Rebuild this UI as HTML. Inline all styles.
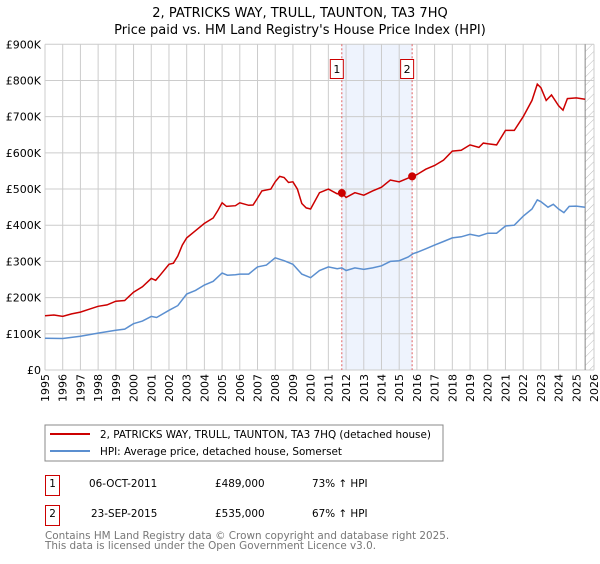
<!DOCTYPE html>
<html><head><meta charset="utf-8"><style>
body{margin:0;background:#fff;font-family:"DejaVu Sans","Liberation Sans",sans-serif;}
svg text{font-family:"DejaVu Sans","Liberation Sans",sans-serif;}
</style></head><body>
<svg id="c" width="600" height="560" viewBox="0 0 600 560" xmlns="http://www.w3.org/2000/svg">
<defs><pattern id="hatch" width="6" height="6" patternUnits="userSpaceOnUse" patternTransform="rotate(45)"><line x1="0" y1="0" x2="0" y2="6" stroke="#bbb" stroke-width="1"/></pattern></defs>
<text x="300" y="17" text-anchor="middle" font-size="13" fill="#000">2, PATRICKS WAY, TRULL, TAUNTON, TA3 7HQ</text>
<text x="300" y="34" text-anchor="middle" font-size="13" fill="#000">Price paid vs. HM Land Registry's House Price Index (HPI)</text>
<g id="plot"></g>
<rect x="45" y="425" width="398" height="36" fill="#fff" stroke="#888"/>
<line x1="50" y1="434" x2="90" y2="434" stroke="#cc0000" stroke-width="2"/>
<text x="100" y="438" font-size="10.4">2, PATRICKS WAY, TRULL, TAUNTON, TA3 7HQ (detached house)</text>
<line x1="50" y1="451" x2="90" y2="451" stroke="#5b8fd0" stroke-width="2"/>
<text x="100" y="455" font-size="10.4">HPI: Average price, detached house, Somerset</text>
<rect x="45.5" y="475.5" width="14" height="20" fill="#fff" stroke="#cc0000"/>
<text x="52.5" y="487" text-anchor="middle" font-size="10.4">1</text>
<text x="89" y="487" font-size="10.4">06-OCT-2011</text>
<text x="215" y="487" font-size="10.4">£489,000</text>
<text x="312" y="487" font-size="10.4">73% ↑ HPI</text>
<rect x="45.5" y="505.5" width="14" height="20" fill="#fff" stroke="#cc0000"/>
<text x="52.5" y="517" text-anchor="middle" font-size="10.4">2</text>
<text x="91" y="517" font-size="10.4">23-SEP-2015</text>
<text x="215" y="517" font-size="10.4">£535,000</text>
<text x="312" y="517" font-size="10.4">67% ↑ HPI</text>
<text x="45" y="539" font-size="10.4" fill="#777">Contains HM Land Registry data © Crown copyright and database right 2025.</text>
<text x="45" y="549" font-size="10.4" fill="#777">This data is licensed under the Open Government Licence v3.0.</text>
</svg>
<script>
const yTicks=[0,100,200,300,400,500,600,700,800,900];
const yTickLabels=["£0","£100K","£200K","£300K","£400K","£500K","£600K","£700K","£800K","£900K"];
const xYears=[1995,1996,1997,1998,1999,2000,2001,2002,2003,2004,2005,2006,2007,2008,2009,2010,2011,2012,2013,2014,2015,2016,2017,2018,2019,2020,2021,2022,2023,2024,2025,2026];
const propT=[1995,1995.5,1996,1996.5,1997,1997.5,1998,1998.5,1999,1999.5,2000,2000.5,2001,2001.25,2001.5,2002,2002.25,2002.5,2002.75,2003,2003.5,2004,2004.5,2004.75,2005,2005.25,2005.75,2006,2006.5,2006.75,2007,2007.25,2007.75,2008,2008.25,2008.5,2008.75,2009,2009.25,2009.5,2009.75,2010,2010.5,2011,2011.5,2011.76,2012,2012.5,2013,2013.5,2014,2014.5,2015,2015.73,2016,2016.5,2017,2017.5,2018,2018.5,2019,2019.5,2019.75,2020,2020.5,2021,2021.5,2022,2022.5,2022.8,2023,2023.3,2023.6,2024,2024.25,2024.5,2025,2025.5];
const propV=[150,152,148,155,160,168,176,180,190,192,215,230,253,248,262,292,295,315,345,365,385,405,420,440,462,452,454,462,455,456,475,495,500,520,535,532,518,520,500,460,448,445,490,500,487,489,477,490,483,495,505,525,520,535,540,555,565,580,605,607,622,615,627,625,622,662,662,700,745,790,780,745,760,730,718,750,752,748];
const hpiT=[1995,1996,1997,1998,1999,1999.5,2000,2000.5,2001,2001.3,2002,2002.5,2003,2003.5,2004,2004.5,2005,2005.3,2005.75,2006,2006.5,2007,2007.5,2008,2008.5,2009,2009.5,2010,2010.5,2011,2011.5,2011.76,2012,2012.5,2013,2013.5,2014,2014.5,2015,2015.5,2015.8,2016,2016.5,2017,2017.5,2018,2018.5,2019,2019.5,2020,2020.5,2021,2021.5,2022,2022.5,2022.8,2023,2023.4,2023.7,2024,2024.3,2024.6,2025,2025.5];
const hpiV=[88,87,93,102,110,113,128,135,148,145,165,178,210,220,235,245,268,262,263,265,265,285,290,310,302,292,265,255,275,285,280,282,275,282,278,282,288,300,302,312,322,325,335,345,355,365,368,375,370,378,378,398,400,425,445,470,465,450,458,445,435,452,453,450];
const saleT=[2011.76,2015.73];
const saleV=[489,535];
const saleLabels=["1","2"];
const dataEnd=2025.5;
const X0=45,X1=594,Y0=370,Y1=44.3;
const x=t=>X0+(t-1995)/(2026-1995)*(X1-X0);
const y=v=>Y0-v/900*(Y0-Y1);
const NS="http://www.w3.org/2000/svg";
const g=document.getElementById('plot');
function mk(tag,attrs){const e=document.createElementNS(NS,tag);for(const k in attrs)e.setAttribute(k,attrs[k]);g.appendChild(e);return e;}
let e;
e=mk('rect',{x:x(saleT[0]),y:Y1,width:x(saleT[1])-x(saleT[0]),height:Y0-Y1,fill:'#eef3fd'});


e=mk('rect',{x:x(dataEnd),y:Y1,width:X1-x(dataEnd),height:Y0-Y1,fill:'url(#hatch)'});


xYears.forEach(yr=>{
 e=mk('line',{x1:x(yr),x2:x(yr),y1:Y1,y2:Y0,stroke:'#ccc','stroke-width':1});
 
 
 e=mk('text',{x:0,y:0,'font-size':11,'text-anchor':'end',transform:`translate(${x(yr)+4},${Y0+4}) rotate(-90)`});
 e.textContent=yr;
 
 
});
yTicks.forEach((v,i)=>{
 e=mk('line',{x1:X0,x2:X1,y1:y(v),y2:y(v),stroke:'#ccc','stroke-width':1});
 
 
 e=mk('text',{x:X0-4,y:y(v)+4,'font-size':11,'text-anchor':'end'});
 e.textContent=yTickLabels[i];
 
 
});
e=mk('line',{x1:x(dataEnd),x2:x(dataEnd),y1:Y1,y2:Y0,stroke:'#888','stroke-width':1});


saleT.forEach((t,i)=>{
 e=mk('line',{x1:x(t),x2:x(t),y1:Y1,y2:Y0,stroke:'#e06060','stroke-width':1,'stroke-dasharray':'2,2'});
 
 
 e=mk('rect',{x:x(t)-11.5,y:59.5,width:13,height:19,fill:'#fff',stroke:'#cc0000'});
 
 
 e=mk('text',{x:x(t)-5,y:73,'font-size':11,'text-anchor':'middle'});
 e.textContent=saleLabels[i];
 
 
});
const path=(T,V)=>T.map((t,i)=>(i?'L':'M')+x(t).toFixed(1)+','+y(V[i]).toFixed(1)).join('');
e=mk('path',{d:path(hpiT,hpiV),fill:'none',stroke:'#5b8fd0','stroke-width':1.5});


e=mk('path',{d:path(propT,propV),fill:'none',stroke:'#cc0000','stroke-width':1.5});


saleT.forEach((t,i)=>{
 e=mk('circle',{cx:x(t),cy:y(saleV[i]),r:4,fill:'#cc0000'});
 
 
});
</script>
</body></html>
